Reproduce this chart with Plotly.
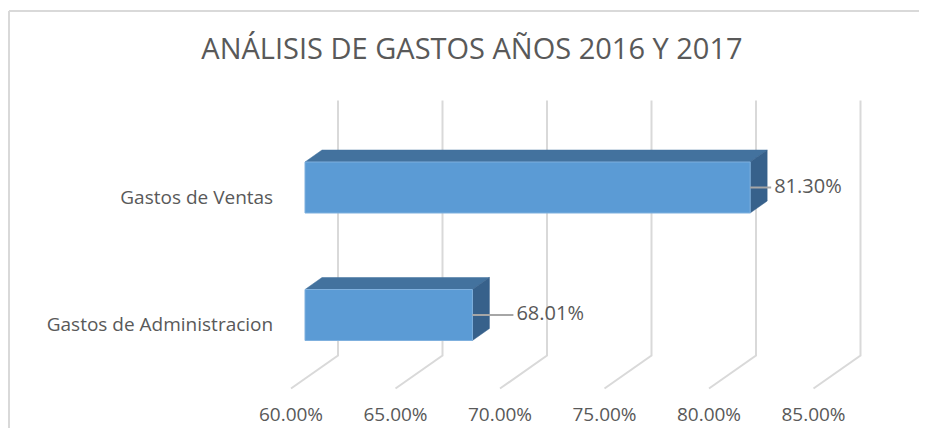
import plotly.graph_objects as go

# data
categories = ["Gastos de Ventas", "Gastos de Administracion"]
values = [81.30, 68.01]
tick_values = [60, 65, 70, 75, 80, 85]
title = "ANÁLISIS DE GASTOS AÑOS 2016 Y 2017"

# the page puts the figure 8px in from the top-left corner (body margin)
PAGE_OFF = 8
W, H = 927 - PAGE_OFF, 436 - 2 * PAGE_OFF

# plot geometry, measured in page pixels
PL, PR, PT, PB = 280 - PAGE_OFF, 900 - PAGE_OFF, 90 - PAGE_OFF, 395 - PAGE_OFF
AXIS_MIN = 60
X_AT_MIN = 305 - PAGE_OFF   # where the bar front face starts
PX_PER_PCT = 20.9
Y_AT_CAT0 = 315 - PAGE_OFF  # centre of the lowest category
PX_PER_CAT = 127.5

xr = [AXIS_MIN - (X_AT_MIN - PL) / PX_PER_PCT, AXIS_MIN + (PR - X_AT_MIN) / PX_PER_PCT]
yr = [-(PB - Y_AT_CAT0) / PX_PER_CAT, (Y_AT_CAT0 - PT) / PX_PER_CAT]


def off(dx_px, dy_px):
    # pixel offset (right, up) -> data offset
    return dx_px / PX_PER_PCT, dy_px / PX_PER_CAT


bar_dx, bar_dy = off(17, 12)         # bar depth
back_dx, back_dy = off(33, 23.2)     # back wall relative to bar front plane
front_dx, front_dy = off(-14, -9.8)  # front floor edge
half_h = 25.5 / PX_PER_CAT
leader_px = [21, 41]
label_gap_px = 3

FRONT = "#5B9BD5"
TOP = "#43729E"
SIDE = "#37618B"
GRID = "#D9D9D9"
TEXT = "#595959"
FONT = "Open Sans"

fig = go.Figure()

# gridlines: back wall + floor diagonal
for v in tick_values:
    fig.add_trace(go.Scatter(
        x=[v + back_dx, v + back_dx, v + front_dx],
        y=[1.5 + back_dy, -0.5 + back_dy, -0.5 + front_dy],
        mode="lines", line=dict(color=GRID, width=2),
        hoverinfo="skip", showlegend=False))

n = len(categories)
for i, (cat, v) in enumerate(zip(categories, values)):
    c = n - 1 - i
    y0, y1 = c - half_h, c + half_h
    # top face
    fig.add_trace(go.Scatter(
        x=[AXIS_MIN, v, v + bar_dx, AXIS_MIN + bar_dx, AXIS_MIN],
        y=[y1, y1, y1 + bar_dy, y1 + bar_dy, y1],
        fill="toself", fillcolor=TOP, mode="lines",
        line=dict(color=TOP, width=0.5), hoverinfo="skip", showlegend=False))
    # side face
    fig.add_trace(go.Scatter(
        x=[v, v + bar_dx, v + bar_dx, v, v],
        y=[y0, y0 + bar_dy, y1 + bar_dy, y1, y0],
        fill="toself", fillcolor=SIDE, mode="lines",
        line=dict(color=SIDE, width=0.5), hoverinfo="skip", showlegend=False))
    # front face
    fig.add_trace(go.Scatter(
        x=[AXIS_MIN, v, v, AXIS_MIN, AXIS_MIN],
        y=[y0, y0, y1, y1, y0],
        fill="toself", fillcolor=FRONT, mode="lines",
        line=dict(color="#7FB0DE", width=1), name=cat, showlegend=False))
    # leader line + label
    xe = v + leader_px[i] / PX_PER_PCT
    fig.add_trace(go.Scatter(
        x=[v, xe], y=[c, c], mode="lines",
        line=dict(color="#A6A6A6", width=2), hoverinfo="skip", showlegend=False))
    fig.add_trace(go.Scatter(
        x=[xe + label_gap_px / PX_PER_PCT], y=[c], mode="text", text=[f"{v:.2f}%"],
        textposition="middle right",
        textfont=dict(family=FONT, size=20, color=TEXT),
        hoverinfo="skip", showlegend=False))

# chart area border: only the top and left edges fall inside the picture
bx0 = (1 - PL) / (PR - PL)
bx1 = (1000 - PL) / (PR - PL)
by0 = (PB - 500) / (PB - PT)
by1 = (PB - 3) / (PB - PT)
border = dict(color="#D9D9D9", width=2)
fig.add_shape(type="line", xref="paper", yref="paper", x0=bx0, x1=bx1, y0=by1, y1=by1,
              line=border, layer="below")
fig.add_shape(type="line", xref="paper", yref="paper", x0=bx0, x1=bx0, y0=by0, y1=by1,
              line=border, layer="below")

fig.update_layout(
    width=W, height=H,
    margin=dict(l=PL, r=W - PR, t=PT, b=H - PB),
    paper_bgcolor="white", plot_bgcolor="white",
    title=dict(text=title, x=(472 - PAGE_OFF) / W, xanchor="center",
               y=1 - (48.5 - PAGE_OFF) / H, yanchor="middle",
               font=dict(family=FONT, size=29, color=TEXT)),
    xaxis=dict(range=xr, visible=False, fixedrange=True, automargin=False),
    yaxis=dict(range=yr, visible=False, fixedrange=True, automargin=False),
    xaxis2=dict(range=[xr[0] - front_dx, xr[1] - front_dx], overlaying="x", side="bottom",
                anchor="y", tickvals=tick_values, automargin=False,
                ticktext=[f"{t:.2f}%" for t in tick_values],
                showgrid=False, zeroline=False, showline=False,
                ticks="outside", ticklen=2, tickcolor="rgba(0,0,0,0)",
                tickfont=dict(family=FONT, size=19, color=TEXT)),
    yaxis2=dict(range=[yr[0] - front_dy, yr[1] - front_dy], overlaying="y", side="left",
                anchor="x", tickvals=[n - 1 - i for i in range(n)], ticktext=categories,
                showgrid=False, zeroline=False, showline=False, automargin=False,
                ticks="outside", ticklen=2, tickcolor="rgba(0,0,0,0)",
                tickfont=dict(family=FONT, size=19, color=TEXT)),
)
# an invisible trace to bring the secondary axes to life
fig.add_trace(go.Scatter(x=[AXIS_MIN], y=[0], xaxis="x2", yaxis="y2", mode="markers",
                         marker=dict(opacity=0), hoverinfo="skip", showlegend=False))

fig.write_html("out.html")
